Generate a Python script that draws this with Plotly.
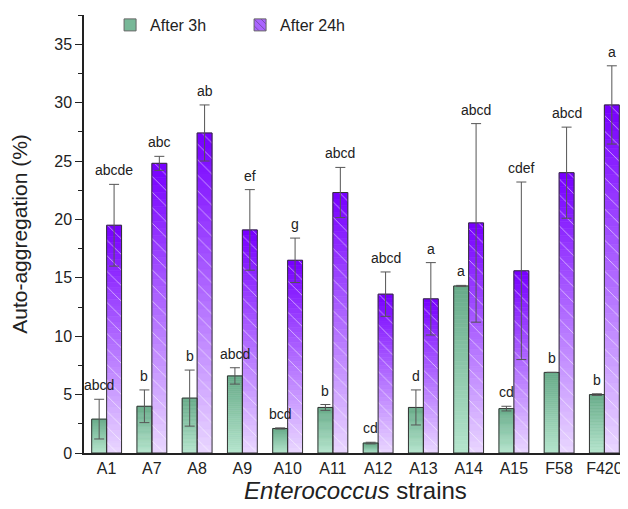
import plotly.graph_objects as go

categories = ["A1", "A7", "A8", "A9", "A10", "A11", "A12", "A13", "A14", "A15", "F58", "F420"]
after_3h = [2.9, 4.0, 4.7, 6.6, 2.1, 3.9, 0.85, 3.9, 14.3, 3.8, 6.9, 5.0]
after_3h_err = [1.7, 1.4, 2.4, 0.7, 0.05, 0.25, 0.07, 1.5, 0.05, 0.2, 0.0, 0.07]
after_24h = [19.5, 24.8, 27.4, 19.1, 16.5, 22.3, 13.6, 13.2, 19.7, 15.6, 24.0, 29.8]
after_24h_err = [3.5, 0.6, 2.4, 3.45, 1.9, 2.15, 1.9, 3.1, 8.5, 7.6, 3.9, 3.35]
letters_3h = ["abcd", "b", "b", "abcd", "bcd", "b", "cd", "d", "a", "cd", "b", "b"]
letters_24h = ["abcde", "abc", "ab", "ef", "g", "abcd", "abcd", "a", "abcd", "cdef", "abcd", "a"]

N_SEG = 40
BW = 0.33
green_top, green_bot = (104, 172, 138), (180, 228, 204)
purple_top, purple_bot = (120, 0, 255), (232, 212, 255)


def lerp(c1, c2, t):
    return "rgb(%d,%d,%d)" % tuple(round(a + (b - a) * t) for a, b in zip(c1, c2))


fig = go.Figure()

# legend-only entries (zero height)
fig.add_trace(go.Bar(
    x=[categories[0]], y=[0], name="After 3h", offset=-BW, width=BW,
    marker=dict(color="rgb(120,184,152)", line=dict(color="#666", width=1)),
    hoverinfo="skip", legendrank=1))
fig.add_trace(go.Bar(
    x=[categories[0]], y=[0], name="After 24h", offset=0, width=BW,
    marker=dict(color="rgb(170,100,255)", line=dict(color="#666", width=1),
                pattern=dict(shape="\\", fgcolor="#222", bgcolor="rgb(170,100,255)",
                             size=6, solidity=0.15)),
    hoverinfo="skip", legendrank=2))

# gradient segments
for series, top, bot, off in [(after_3h, green_top, green_bot, -BW),
                              (after_24h, purple_top, purple_bot, 0)]:
    for k in range(N_SEG):
        col = lerp(bot, top, k / (N_SEG - 1))
        fig.add_trace(go.Bar(
            x=categories, y=[v / N_SEG for v in series],
            base=[v * k / N_SEG for v in series],
            offset=off, width=BW,
            marker=dict(color=col, line=dict(color=col, width=0.6)),
            showlegend=False, hoverinfo="skip"))

# outlines + error bars
fig.add_trace(go.Bar(
    x=categories, y=after_3h, offset=-BW, width=BW,
    marker=dict(color="rgba(0,0,0,0)", line=dict(color="#333", width=1)),
    error_y=dict(type="data", array=after_3h_err, color="#555", thickness=1, width=5),
    showlegend=False, name="After 3h"))
fig.add_trace(go.Bar(
    x=categories, y=after_24h, offset=0, width=BW,
    marker=dict(color="rgba(0,0,0,0)", line=dict(color="#333", width=1),
                pattern=dict(shape="\\", fgcolor="white", fgopacity=0.6,
                             bgcolor="rgba(0,0,0,0)", size=11, solidity=0.08)),
    error_y=dict(type="data", array=after_24h_err, color="#555", thickness=1, width=5),
    showlegend=False, name="After 24h"))

annotations = []
for i in range(len(categories)):
    annotations.append(dict(x=i - BW / 2, y=after_3h[i] + after_3h_err[i], xref="x", yref="y",
                            text=letters_3h[i], showarrow=False, yshift=14,
                            font=dict(size=14, color="#222")))
    annotations.append(dict(x=i + BW / 2, y=after_24h[i] + after_24h_err[i], xref="x", yref="y",
                            text=letters_24h[i], showarrow=False, yshift=14,
                            font=dict(size=14, color="#222")))

fig.update_layout(
    width=620, height=501,
    margin=dict(l=76, r=1, t=6, b=56),
    barmode="overlay",
    plot_bgcolor="white", paper_bgcolor="white",
    font=dict(family="Liberation Sans, Arial, sans-serif", color="#222"),
    annotations=annotations,
    legend=dict(orientation="h", x=0.048, y=1.014, xanchor="left", yanchor="top",
                entrywidth=85, entrywidthmode="pixels",
                font=dict(size=16), bgcolor="rgba(0,0,0,0)"),
    xaxis=dict(type="category", range=[-0.5, 11.5], showline=True, linecolor="#222",
               linewidth=1.5, ticks="", tickfont=dict(size=16), automargin=False,
               title=dict(text="<i>Enterococcus</i> strains", font=dict(size=24), standoff=6)),
    yaxis=dict(range=[0, 37.5], dtick=5, showline=True, linecolor="#222", linewidth=1.5,
               ticks="outside", ticklen=7, tickcolor="#222", tickfont=dict(size=16),
               showgrid=False, zeroline=False, automargin=False,
               minor=dict(dtick=2.5, ticks="outside", ticklen=4, tickcolor="#222"),
               title=dict(text="Auto-aggregation (%)", font=dict(size=21), standoff=28)),
)

fig.write_html("out.html")
